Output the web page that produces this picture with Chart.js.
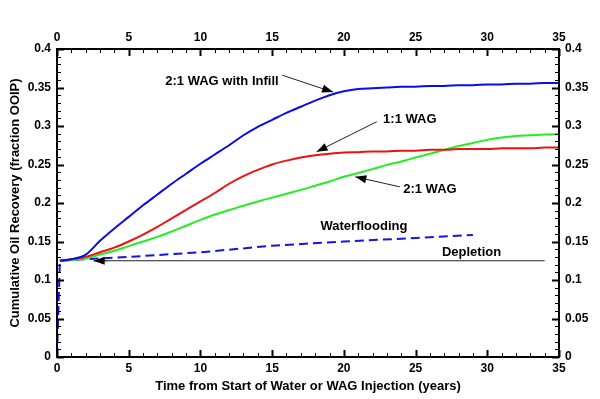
<!DOCTYPE html>
<html>
<head>
<meta charset="utf-8">
<script src="https://cdn.jsdelivr.net/npm/chart.js@4.4.0/dist/chart.umd.min.js"></script>
<style>
body { margin: 0; background: #fff; }
</style>
</head>
<body>
<canvas id="c" width="600" height="399"></canvas>
<script>
// Values
const years = [0.2, 1, 2, 3, 4, 5, 6, 7, 8, 9, 10, 11, 12, 13, 14, 15, 16, 17, 18, 19, 20,
    21, 22, 23, 24, 25, 26, 27, 28, 29, 30, 31, 32, 33, 34, 35];
const wagInfill = [0.125, 0.127, 0.133, 0.151, 0.167, 0.182, 0.197, 0.211, 0.225, 0.238, 0.251,
    0.263, 0.275, 0.288, 0.299, 0.308, 0.317, 0.325, 0.333, 0.340, 0.345,
    0.348, 0.349, 0.350, 0.351, 0.351, 0.352, 0.352, 0.353, 0.353, 0.354, 0.354, 0.355, 0.355, 0.356, 0.356];
const wag11 = [0.125, 0.127, 0.130, 0.136, 0.142, 0.150, 0.159, 0.169, 0.180, 0.191, 0.202,
    0.213, 0.225, 0.235, 0.243, 0.250, 0.255, 0.259, 0.262, 0.264, 0.2655,
    0.266, 0.267, 0.267, 0.268, 0.268, 0.269, 0.269, 0.270, 0.270, 0.270, 0.271, 0.271, 0.271, 0.272, 0.272];
const wag21 = [0.125, 0.126, 0.128, 0.133, 0.138, 0.144, 0.150, 0.156, 0.163, 0.1705, 0.178,
    0.185, 0.191, 0.1965, 0.202, 0.207, 0.212, 0.217, 0.2225, 0.228, 0.234,
    0.239, 0.244, 0.2495, 0.254, 0.259, 0.264, 0.269, 0.274, 0.278, 0.282, 0.285, 0.287, 0.288, 0.289, 0.2895];
const wfYears = [0, 0.2, 2, 5, 10, 15, 20, 25, 29];
const waterflood = [0, 0.125, 0.127, 0.130, 0.136, 0.1445, 0.150, 0.1545, 0.1585];
const depYears = [2.56, 34];
const depletion = [0.125, 0.125];

const xTicks = [0, 5, 10, 15, 20, 25, 30, 35];
const yTicks = ['0', '0.05', '0.1', '0.15', '0.2', '0.25', '0.3', '0.35', '0.4'];

const pts = (xs, ys) => xs.map((x, i) => ({ x: x, y: ys[i] }));

// text labels and arrows, in data units
const notes = [
    { text: '2:1 WAG with Infill', x: 11.5, y: 0.358 },
    { text: '1:1 WAG', x: 24.6, y: 0.308 },
    { text: '2:1 WAG', x: 26.0, y: 0.217 },
    { text: 'Waterflooding', x: 21.4, y: 0.170 },
    { text: 'Depletion', x: 28.9, y: 0.136 }
];
const arrows = [
    { from: [15.7, 0.366], to: [19.25, 0.344] },
    { from: [22.3, 0.3056], to: [18.1, 0.2666] },
    { from: [23.9, 0.221], to: [20.8, 0.234] },
    { from: [3.5, 0.125], to: [2.56, 0.125] }
];

const FONT = '"Liberation Sans", Arial, sans-serif';

const frameTicks = {
    id: 'frameTicks',
    afterDatasetsDraw(chart) {
        const ctx = chart.ctx;
        const a = chart.chartArea;
        const xs = chart.scales.x, ys = chart.scales.y;
        ctx.save();
        ctx.strokeStyle = '#000';
        for (let v = 0; v <= 35; v++) {
            const px = Math.round(xs.getPixelForValue(v)) + 0.5;
            const major = v % 5 === 0;
            const len = major ? 7 : 4;
            ctx.lineWidth = major ? 2 : 1;
            ctx.beginPath();
            ctx.moveTo(px, a.bottom); ctx.lineTo(px, a.bottom - len);
            ctx.moveTo(px, a.top); ctx.lineTo(px, a.top + len);
            ctx.stroke();
        }
        for (let i = 0; i <= 40; i++) {
            const py = Math.round(ys.getPixelForValue(i / 100)) + 0.5;
            const major = i % 5 === 0;
            const len = major ? 7 : 4;
            ctx.lineWidth = major ? 2 : 1;
            ctx.beginPath();
            ctx.moveTo(a.left, py); ctx.lineTo(a.left + len, py);
            ctx.moveTo(a.right, py); ctx.lineTo(a.right - len, py);
            ctx.stroke();
        }
        ctx.lineWidth = 2;
        ctx.strokeRect(a.left, a.top, a.right - a.left, a.bottom - a.top);

        // annotations
        ctx.fillStyle = '#000';
        ctx.font = 'bold 13px ' + FONT;
        ctx.textAlign = 'center';
        ctx.textBaseline = 'middle';
        notes.forEach(n => ctx.fillText(n.text, xs.getPixelForValue(n.x), ys.getPixelForValue(n.y)));
        ctx.lineWidth = 1;
        ctx.strokeStyle = '#222';
        arrows.forEach(ar => {
            const x1 = xs.getPixelForValue(ar.from[0]), y1 = ys.getPixelForValue(ar.from[1]);
            const x2 = xs.getPixelForValue(ar.to[0]), y2 = ys.getPixelForValue(ar.to[1]);
            ctx.beginPath(); ctx.moveTo(x1, y1); ctx.lineTo(x2, y2); ctx.stroke();
            const ang = Math.atan2(y2 - y1, x2 - x1), L = 11, W = 4;
            ctx.beginPath();
            ctx.moveTo(x2, y2);
            ctx.lineTo(x2 - L * Math.cos(ang) + W * Math.sin(ang), y2 - L * Math.sin(ang) - W * Math.cos(ang));
            ctx.lineTo(x2 - L * Math.cos(ang) - W * Math.sin(ang), y2 - L * Math.sin(ang) + W * Math.cos(ang));
            ctx.closePath(); ctx.fill();
        });
        ctx.restore();
    }
};

const line = (data, color, extra) => Object.assign({
    data: data, borderColor: color, borderWidth: 2, pointRadius: 0,
    cubicInterpolationMode: 'monotone', fill: false
}, extra || {});

const xAxis = (pos, pad, h, title) => ({
    type: 'linear', position: pos, min: 0, max: 35,
    afterBuildTicks: s => { s.ticks = xTicks.map(v => ({ value: v })); },
    afterFit: s => { s.height = h; },
    grid: { display: false, drawTicks: false },
    border: { display: false },
    ticks: { padding: pad, color: '#000', font: { family: FONT, size: 12, weight: 'bold' }, maxRotation: 0 },
    title: title
});
const yAxis = (pos, pad, w, title) => ({
    type: 'linear', position: pos, min: 0, max: 0.4,
    afterBuildTicks: s => { s.ticks = yTicks.map(t => ({ value: parseFloat(t) })); },
    afterFit: s => { s.width = w; },
    grid: { display: false, drawTicks: false },
    border: { display: false },
    ticks: { padding: pad, color: '#000', font: { family: FONT, size: 12, weight: 'bold' },
        callback: (v) => yTicks.find(t => parseFloat(t) === v) },
    title: title
});

new Chart(document.getElementById('c').getContext('2d'), {
    type: 'line',
    data: {
        datasets: [
            line(pts(years, wagInfill), '#0a0af0'),
            line(pts(years, wag11), '#f01010'),
            line(pts(years, wag21), '#22ee22'),
            line(pts(wfYears, waterflood), '#1414e6', { borderDash: [9, 5], cubicInterpolationMode: 'default', tension: 0 }),
            line(pts(depYears, depletion), '#222', { borderWidth: 1, tension: 0 })
        ]
    },
    options: {
        responsive: false,
        animation: false,
        layout: { padding: 0 },
        plugins: { legend: { display: false }, tooltip: { enabled: false } },
        scales: {
            x: xAxis('bottom', 4, 42, { display: true, text: 'Time from Start of Water or WAG Injection (years)',
                color: '#000', font: { family: FONT, size: 13, weight: 'bold' }, padding: { top: 0, bottom: 5 } }),
            x2: xAxis('top', 4, 49),
            y: yAxis('left', 6, 57, { display: true, text: 'Cumulative Oil Recovery (fraction OOIP)',
                color: '#000', font: { family: FONT, size: 13, weight: 'bold' }, padding: { top: 8, bottom: 0 } }),
            y2: yAxis('right', 6, 41)
        }
    },
    plugins: [frameTicks]
});
</script>
</body>
</html>
